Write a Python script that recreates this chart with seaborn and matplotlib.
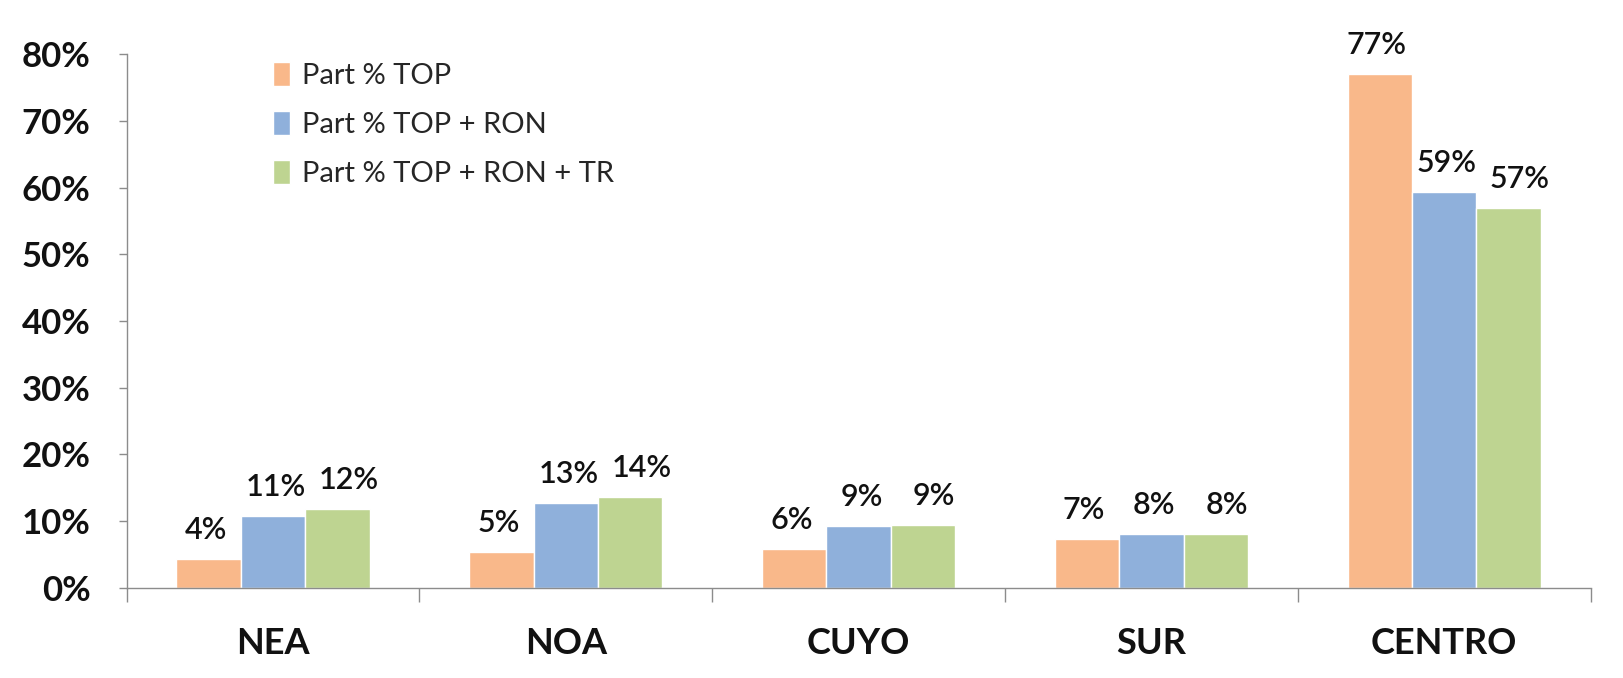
import numpy as np
import pandas as pd
import seaborn as sns
import matplotlib.pyplot as plt
from matplotlib.ticker import PercentFormatter, FixedLocator

regions = ["NEA", "NOA", "CUYO", "SUR", "CENTRO"]
series = ["Part % TOP", "Part % TOP + RON", "Part % TOP + RON + TR"]
top = [4.3, 5.4, 5.8, 7.3, 77.0]
top_ron = [10.8, 12.7, 9.3, 8.0, 59.3]
top_ron_tr = [11.8, 13.6, 9.4, 8.1, 56.9]
colors = ["#F9B88A", "#8FB0DB", "#BED491"]

sns.set_style("white")
plt.rcParams["font.family"] = ["Lato", "DejaVu Sans"]

df = pd.DataFrame({
    "region": regions * 3,
    "series": [s for s in series for _ in regions],
    "value": top + top_ron + top_ron_tr,
})

fig = plt.figure(figsize=(16.23, 6.78), dpi=100)
ax = fig.add_axes([0.078, 0.133, 0.902, 0.787])
sns.barplot(data=df, x="region", y="value", hue="series", palette=colors,
            width=0.66, saturation=1, ax=ax, errorbar=None)

# value labels on top of every bar (the green ones sit a little to the right)
for cont, dx in zip(ax.containers, [-2, 2, 8]):
    vals = [b.get_height() for b in cont]
    texts = ax.bar_label(cont, labels=[f"{round(v)}%" for v in vals], padding=11,
                         fontsize=22, fontweight="semibold", color="#111111",
                         clip_on=False)
    for t in texts:
        t.xyann = (dx, t.xyann[1])

ax.set_ylim(0, 80)
ax.set_xlim(-0.5, 4.5)
ax.yaxis.set_major_locator(FixedLocator(np.arange(0, 81, 10)))
ax.yaxis.set_major_formatter(PercentFormatter(decimals=0))
ax.set_xlabel("")
ax.set_ylabel("")

for lbl in ax.get_yticklabels():
    lbl.set_fontweight("bold")
    lbl.set_fontsize(25)
    lbl.set_color("#111111")
for lbl in ax.get_xticklabels():
    lbl.set_fontweight("bold")
    lbl.set_fontsize(26)
    lbl.set_color("#111111")

ax.tick_params(axis="y", which="major", length=6, width=1, color="#8C8C8C",
               direction="out", left=True, pad=20)
ax.tick_params(axis="x", which="major", length=0, pad=28)
ax.set_xticks(np.arange(-0.5, 5.0, 1.0), minor=True)
ax.tick_params(axis="x", which="minor", length=10, width=1, color="#8C8C8C",
               direction="out", bottom=True)

for side in ["top", "right"]:
    ax.spines[side].set_visible(False)
for side in ["left", "bottom"]:
    ax.spines[side].set_color("#8C8C8C")
    ax.spines[side].set_linewidth(1)

ax.legend(loc="upper left", bbox_to_anchor=(0.082, 1.035), frameon=False,
          fontsize=21, handlelength=0.6, handleheight=0.9, handletextpad=0.4,
          labelspacing=0.75)

fig.savefig("out.png", dpi=100, facecolor="white")
